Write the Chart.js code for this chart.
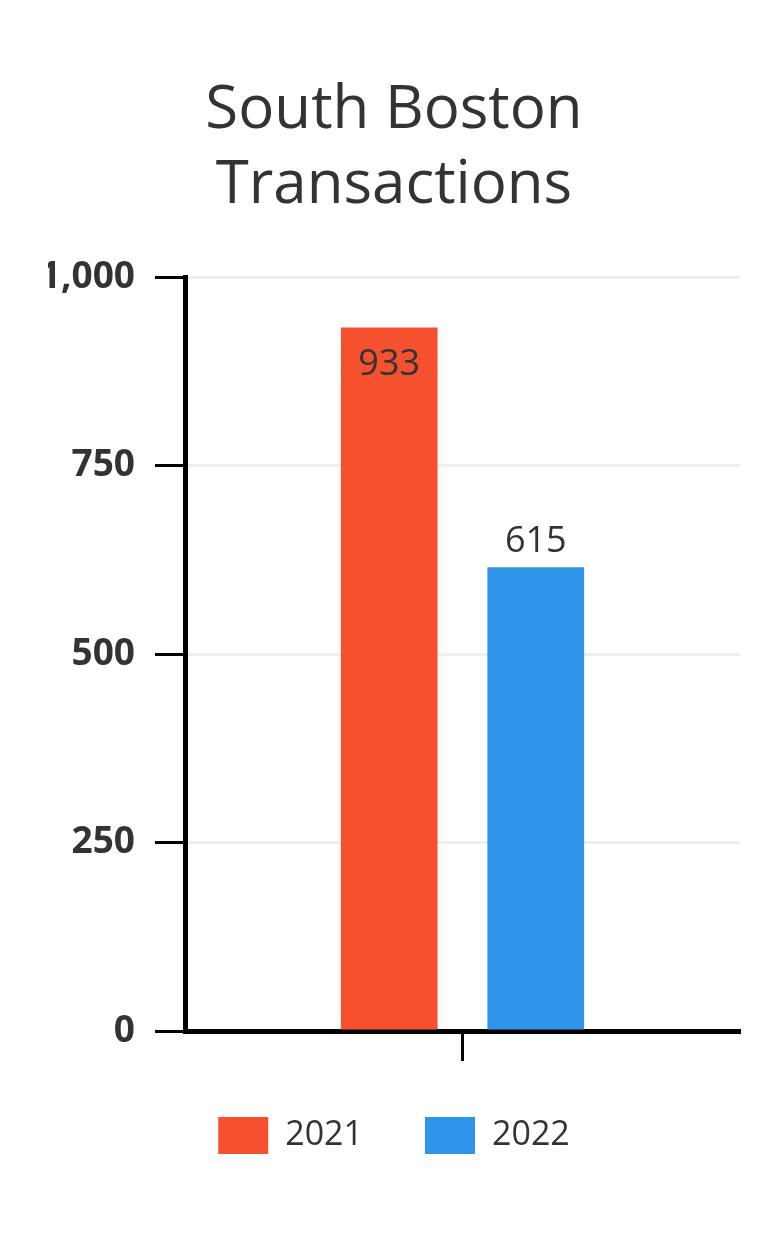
<!DOCTYPE html>
<html>
<head>
<meta charset="utf-8">
<script src="https://cdn.jsdelivr.net/npm/chart.js@4.4.1/dist/chart.umd.min.js"></script>
<style>
  html, body { margin: 0; padding: 0; background: #fff; }
  #wrap { width: 781px; height: 1250px; position: relative; }
</style>
</head>
<body>
<div id="wrap"><canvas id="myChart"></canvas></div>
<script>
'use strict';

const categories = [''];
const seriesNames = ['2021', '2022'];
const values2021 = [933];
const values2022 = [615];
const yTicks = [0, 250, 500, 750, 1000];

const chartCanvas = document.getElementById('myChart');

// draws the value label on each bar, inside or above the bar top
const valueLabels = {
  id: 'valueLabels',
  afterDatasetsDraw(chart) {
    const ctx = chart.ctx;
    ctx.save();
    ctx.font = '36px "Open Sans"';
    ctx.fillStyle = '#333333';
    ctx.textAlign = 'center';
    chart.data.datasets.forEach((ds, i) => {
      const meta = chart.getDatasetMeta(i);
      meta.data.forEach((bar, j) => {
        const text = ds.data[j].toLocaleString('en-US');
        if (ds.labelInside) {
          ctx.textBaseline = 'top';
          ctx.fillText(text, bar.x, bar.y + 19);
        } else {
          ctx.textBaseline = 'bottom';
          ctx.fillText(text, bar.x, bar.y - 8);
        }
      });
    });
    ctx.restore();
  }
};

function createChart() {
  return new Chart(chartCanvas, {
    type: 'bar',
    data: {
      labels: categories,
      datasets: [
        {
          label: seriesNames[0],
          data: values2021,
          backgroundColor: '#F5512E',
          labelInside: true,
        },
        {
          label: seriesNames[1],
          data: values2022,
          backgroundColor: '#2F95EA',
          labelInside: false,
        },
      ],
    },
    plugins: [valueLabels],
    options: {
      responsive: true,
      maintainAspectRatio: false,
      animation: false,
      categoryPercentage: 0.528,
      barPercentage: 0.66,
      layout: {
        padding: { top: 73, left: 48, right: 41, bottom: 86 },
      },
      plugins: {
        title: {
          display: true,
          text: ['South Boston', 'Transactions'],
          color: '#333333',
          font: { family: 'Open Sans', size: 60, weight: 'normal', lineHeight: 1.25 },
          padding: { top: 0, bottom: 54 },
        },
        legend: {
          position: 'bottom',
          labels: {
            boxWidth: 50,
            boxHeight: 37,
            padding: 62,
            color: '#333333',
            font: { family: 'Open Sans', size: 34 },
          },
        },
        tooltip: { enabled: false },
      },
      scales: {
        y: {
          min: 0,
          max: 1000,
          afterBuildTicks(axis) {
            axis.ticks = yTicks.map(v => ({ value: v }));
          },
          afterFit(axis) {
            axis.width = 137;
          },
          ticks: {
            color: '#333333',
            padding: 20,
            font: { family: 'Open Sans', size: 37, weight: 'bold' },
            callback: v => v.toLocaleString('en-US'),
          },
          grid: {
            color: '#efefef',
            lineWidth: 3,
            tickLength: 30,
            tickColor: '#000000',
            tickWidth: 3,
          },
          border: { display: true, color: '#000000', width: 5 },
        },
        x: {
          ticks: { display: false },
          afterFit(axis) {
            axis.height = 24;
          },
          grid: {
            offset: false,
            drawOnChartArea: false,
            tickLength: 30,
            tickColor: '#000000',
            tickWidth: 3,
          },
          border: { display: true, color: '#000000', width: 5 },
        },
      },
    },
  });
}

createChart();
</script>
</body>
</html>
